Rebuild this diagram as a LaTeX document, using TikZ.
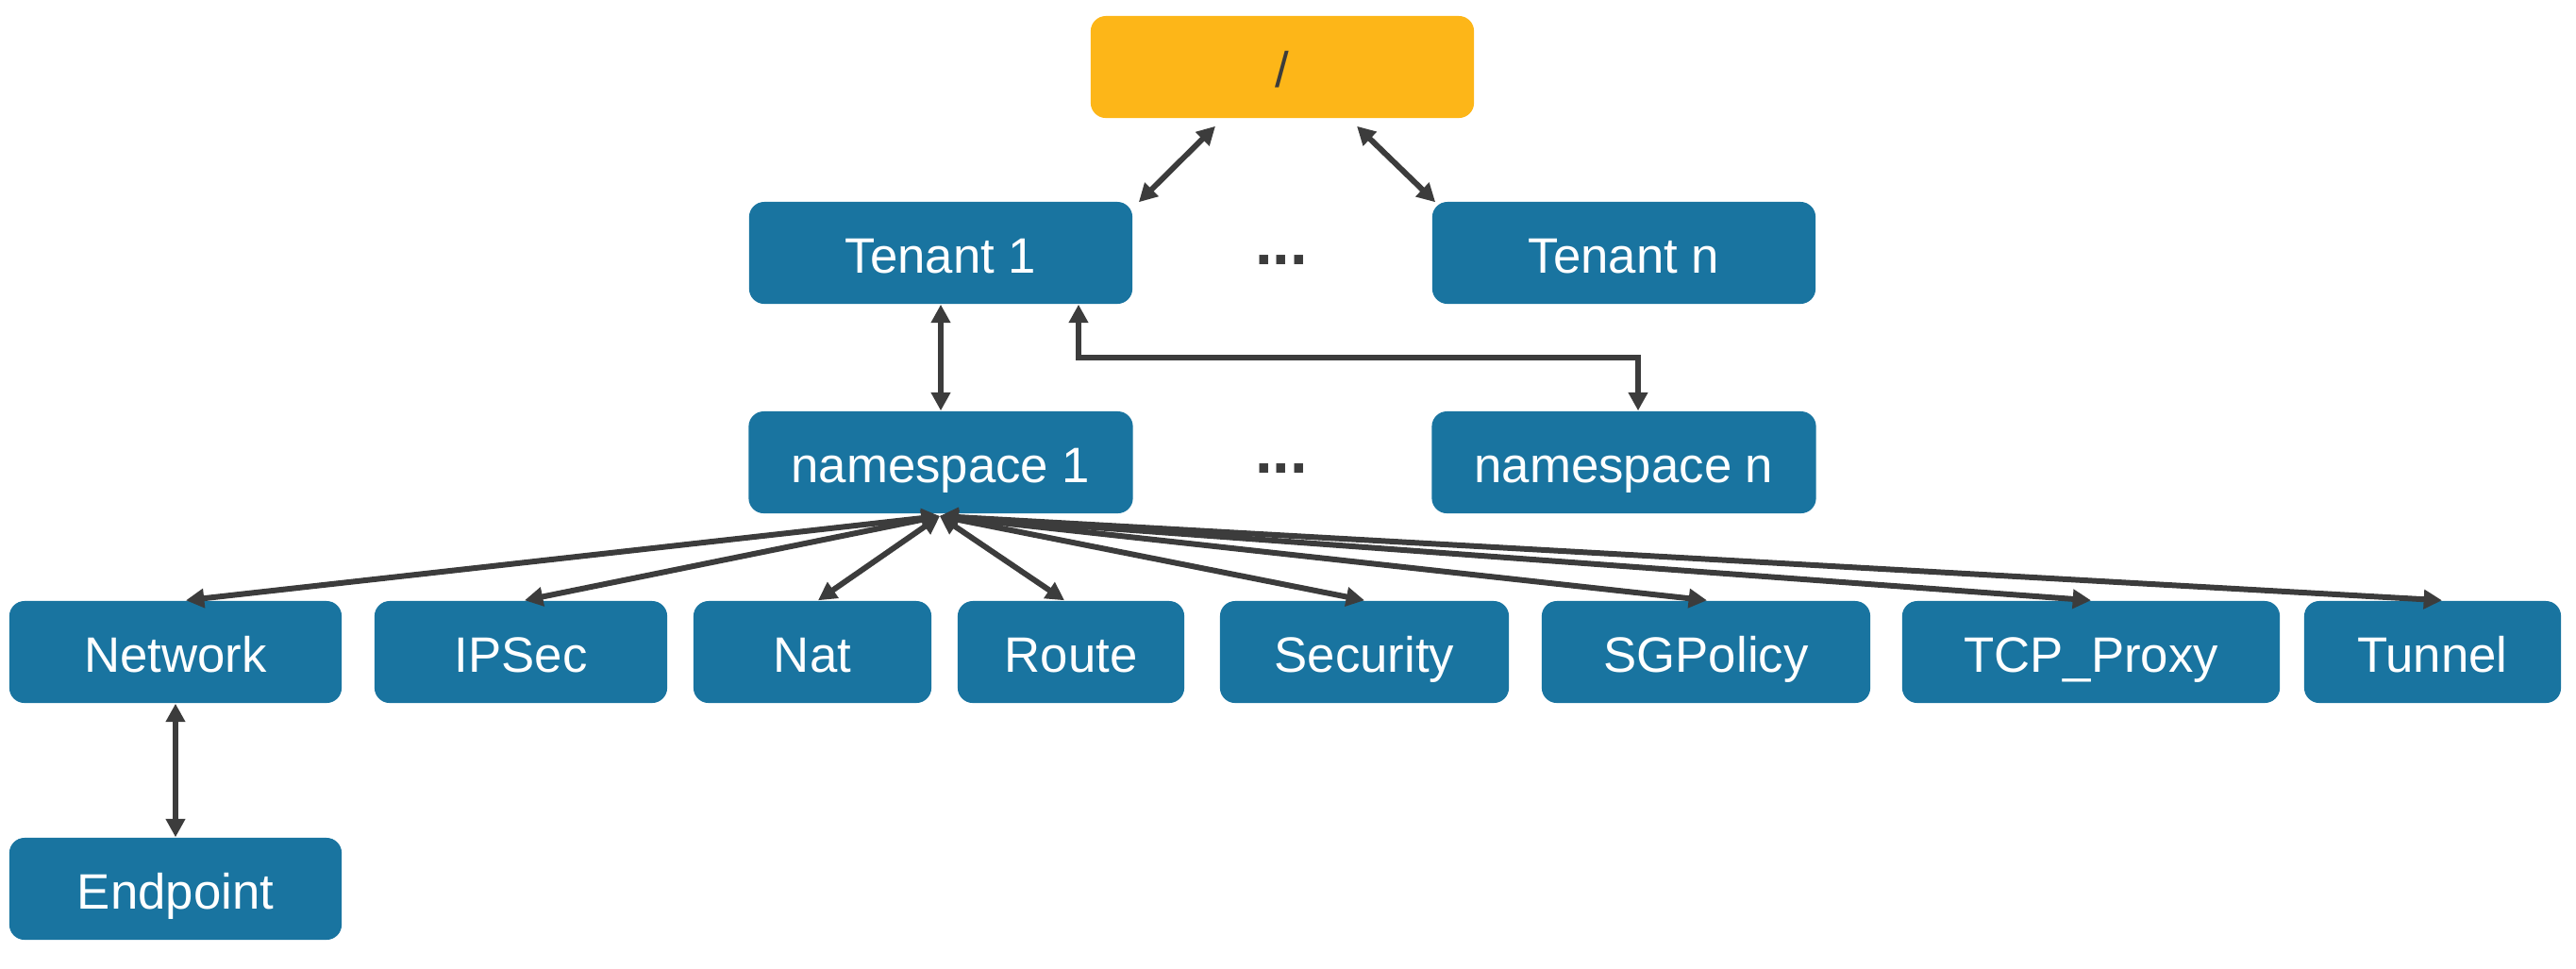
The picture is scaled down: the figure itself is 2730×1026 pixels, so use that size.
\documentclass[tikz,border=0pt]{standalone}
\usepackage{fontspec}
\setmainfont{Liberation Sans}
\usetikzlibrary{arrows.meta,calc}
\definecolor{boxblue}{HTML}{1974A0}
\definecolor{rootorange}{HTML}{FDB618}
\definecolor{linegrey}{HTML}{3C3C3C}
\tikzset{
  box/.style={rectangle, rounded corners=0.16cm, fill=boxblue, text=white,
    minimum height=1.08cm, inner sep=0pt, text height=13pt, text depth=1pt,
    font=\fontsize{15}{18}\selectfont},
  rootbox/.style={box, fill=rootorange, text=linegrey},
  dots/.style={text=linegrey, inner sep=0pt, font=\fontsize{19}{22}\selectfont\bfseries},
  biarrow/.style={draw=linegrey, line width=1.7pt,
    {Triangle[length=5.5pt,width=5.6pt]}-{Triangle[length=5.5pt,width=5.6pt]}}
}
\begin{document}
\begin{tikzpicture}[x=0.01cm,y=-0.01cm]
\useasboundingbox (0,0) rectangle (2730,1026);
% top levels
\node[rootbox, minimum width=4.06cm] (root) at (1359,71) {/};
\node[box, minimum width=4.06cm] (t1) at (997,268) {Tenant 1};
\node[box, minimum width=4.06cm] (tn) at (1721,268) {Tenant n};
\node[dots] (d1) at (1358,276) {...};
\node[box, minimum width=4.07cm] (ns1) at (997,490) {namespace 1};
\node[box, minimum width=4.07cm] (nsn) at (1721,490) {namespace n};
\node[dots] (d2) at (1358,497) {...};
% bottom row
\node[box, minimum width=3.52cm] (net) at (186,691) {Network};
\node[box, minimum width=3.10cm] (ipsec) at (552,691) {IPSec};
\node[box, minimum width=2.52cm] (nat) at (861,691) {Nat};
\node[box, minimum width=2.40cm] (route) at (1135,691) {Route};
\node[box, minimum width=3.06cm] (sec) at (1446,691) {Security};
\node[box, minimum width=3.48cm] (sgp) at (1808,691) {SGPolicy};
\node[box, minimum width=4.00cm] (tcp) at (2216,691) {TCP\_Proxy};
\node[box, minimum width=2.72cm] (tun) at (2578,691) {Tunnel};
\node[box, minimum width=3.52cm] (ep) at (186,942) {Endpoint};
% hub under namespace 1
\coordinate (hub) at (996,547);
% connectors
\draw[biarrow] ($(root.south)+(-71,8)$) -- ($(t1.north east)+(6,1)$);
\draw[biarrow] ($(root.south)+(79,8)$) -- ($(tn.north west)+(4,1)$);
\draw[biarrow] (t1.south) -- (ns1.north);
\draw[biarrow] ($(t1.south)+(146,0)$) -- ++(0,56) -| ($(nsn.north)+(15,0)$);
\foreach \b/\dx in {net/11, ipsec/4, nat/6, route/-7, sec/0, sgp/1, tcp/0, tun/10}{
  \draw[biarrow] (hub) -- ($(\b.north)+(\dx,0)$);
}
\draw[biarrow] (net.south) -- (ep.north);
\end{tikzpicture}
\end{document}
